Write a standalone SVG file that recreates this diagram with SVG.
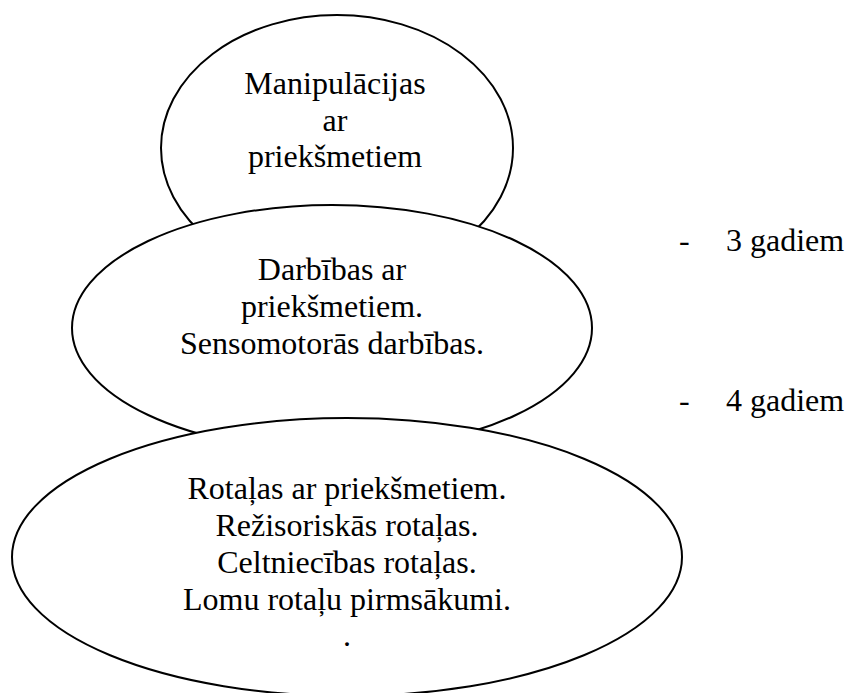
<svg xmlns="http://www.w3.org/2000/svg" width="847" height="693" viewBox="0 0 847 693">
<style>
.shape{fill:#fff;stroke:#000;stroke-width:2}
text{font-family:'Liberation Serif','Tinos','Times New Roman','DejaVu Serif',serif;font-size:32px;fill:#000}
.t{text-anchor:middle}
</style>
<rect width="847" height="693" fill="#fff"/>
<g id="connectors"/>
<g id="node-manipulacijas" font-family="Liberation Serif, Tinos, DejaVu Serif, serif">
<ellipse class="shape" cx="337" cy="148" rx="176" ry="133"/>
<text class="t" x="335" y="94">Manipulācijas</text>
<text class="t" x="335" y="131">ar</text>
<text class="t" x="335" y="167">priekšmetiem</text>
</g>
<g id="node-darbibas" font-family="Liberation Serif, Tinos, DejaVu Serif, serif">
<ellipse class="shape" cx="332" cy="328" rx="260" ry="123"/>
<text class="t" x="332" y="280">Darbības ar</text>
<text class="t" x="332" y="317">priekšmetiem.</text>
<text class="t" x="332" y="354">Sensomotorās darbības.</text>
</g>
<g id="node-rotalas" font-family="Liberation Serif, Tinos, DejaVu Serif, serif">
<ellipse class="shape" cx="347" cy="557" rx="335" ry="139"/>
<text class="t" x="347" y="499">Rotaļas ar priekšmetiem.</text>
<text class="t" x="347" y="536">Režisoriskās rotaļas.</text>
<text class="t" x="347" y="573">Celtniecības rotaļas.</text>
<text class="t" x="347" y="610">Lomu rotaļu pirmsākumi.</text>
<text class="t" x="347" y="646">.</text>
</g>
<g id="label-3">
<text x="679" y="251">-</text>
<text x="726" y="251">3 gadiem</text>
</g>
<g id="label-4">
<text x="679" y="411">-</text>
<text x="726" y="411">4 gadiem</text>
</g>
</svg>
